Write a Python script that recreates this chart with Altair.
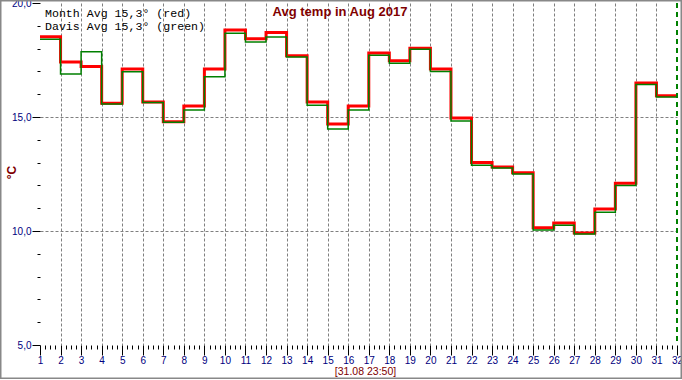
import altair as alt
import pandas as pd

days = list(range(1, 32))
red_vals = [18.52, 17.41, 17.21, 15.60, 17.11, 15.66, 14.79, 15.48, 17.11, 18.82,
            18.43, 18.71, 17.69, 15.66, 14.69, 15.48, 17.81, 17.47, 18.01, 17.11,
            14.96, 13.00, 12.81, 12.56, 10.14, 10.35, 9.91, 10.96, 12.09, 16.49, 15.93]
green_vals = [18.41, 16.89, 17.86, 15.57, 16.99, 15.64, 14.77, 15.31, 16.77, 18.67,
              18.29, 18.51, 17.63, 15.51, 14.47, 15.31, 17.71, 17.36, 17.97, 17.00,
              14.82, 12.88, 12.76, 12.50, 10.04, 10.25, 9.87, 10.82, 12.00, 16.42, 15.88]
legend_lines = ["Month Avg 15,3° (red)", "Davis Avg 15,3° (green)"]
chart_title = ["Avg temp in Aug 2017"]
x_title = "[31.08 23:50]"
y_title = "°C"
now_day = [32]
x_ticks = [1 + i * 0.25 for i in range(125)]
y_ticks = list(range(5, 21))

W, H = 637, 342
NAVY = "#000080"
MAROON = "#800000"
LABEL_FONT = "Liberation Sans Narrow, Liberation Sans, Arial"

# step series: repeat last value at end of final day
red_df = pd.DataFrame({"day": days + [days[-1] + 1], "t": red_vals + [red_vals[-1]]})
green_df = pd.DataFrame({"day": days + [days[-1] + 1], "t": green_vals + [green_vals[-1]]})

xscale = alt.Scale(domain=[1, 32], nice=False, zero=False)
yscale = alt.Scale(domain=[5, 20], nice=False, zero=False)

xaxis = alt.Axis(
    values=x_ticks,
    tickCount=500,
    labelExpr="datum.value % 1 === 0 ? datum.value : ''",
    tickSize={"condition": {"test": "datum.value % 1 === 0", "value": 10}, "value": 4},
    tickColor="black",
    tickWidth=1,
    domain=False,
    grid=True,
    gridColor="#808080",
    gridDash=[3, 2],
    gridWidth=1,
    gridOpacity={"condition": {"test": "datum.value % 1 === 0 && datum.value > 1 && datum.value < 32", "value": 1}, "value": 0},
    labelColor=NAVY,
    labelFont=LABEL_FONT,
    labelFontSize=10,
    labelPadding=0,
    labelFlush=False,
    labelOverlap=False,
    title=x_title,
    titleColor=MAROON,
    titleFont="Liberation Sans",
    titleFontSize=10.5,
    titleFontWeight="normal",
    titleX=325,
    titleY=29.5,
    titleBaseline="alphabetic",
    titleAlign="center",
)

yaxis = alt.Axis(
    values=y_ticks,
    tickCount=100,
    labelExpr="datum.value % 5 === 0 ? replace(format(datum.value, '.1f'), '.', ',') : ''",
    tickSize={"condition": {"test": "datum.value % 5 === 0", "value": 8}, "value": 3},
    tickColor="black",
    tickWidth=1,
    domain=False,
    grid=True,
    gridColor="#808080",
    gridDash=[3, 2],
    gridWidth=1,
    gridOpacity={"condition": {"test": "datum.value === 10 || datum.value === 15", "value": 1}, "value": 0},
    labelColor=NAVY,
    labelFont=LABEL_FONT,
    labelFontSize=10,
    labelPadding=1,
    labelFlush=False,
    labelOverlap=False,
    title=y_title,
    titleColor=MAROON,
    titleFont="Liberation Sans",
    titleFontSize=12,
    titleFontWeight="bold",
    titleX=-29,
    titleY=169,
    titleAlign="center",
    titleBaseline="middle",
)

red_line = alt.Chart(red_df).mark_line(
    interpolate="step-after", color="#FF0000", strokeWidth=3
).encode(
    x=alt.X("day:Q", scale=xscale, axis=xaxis),
    y=alt.Y("t:Q", scale=yscale, axis=yaxis),
)

green_line = alt.Chart(green_df).mark_line(
    interpolate="step-after", color="#008000", strokeWidth=1.5
).encode(
    x=alt.X("day:Q", scale=xscale),
    y=alt.Y("t:Q", scale=yscale),
)

now_rule = alt.Chart(pd.DataFrame({"day": now_day})).mark_rule(
    color="#008000", strokeWidth=2, strokeDash=[5, 4]
).encode(x=alt.X("day:Q", scale=xscale))

legend_df = pd.DataFrame({"txt": legend_lines, "row": [0, 1]})
legend = alt.Chart(legend_df).transform_calculate(
    py="13.5 + datum.row * 13"
).mark_text(
    align="left", baseline="alphabetic", font="Liberation Mono",
    fontSize=11.6, color="#000000"
).encode(
    x=alt.value(5),
    y=alt.Y("py:Q", scale=None),
    text="txt:N",
)

title_txt = alt.Chart(pd.DataFrame({"txt": chart_title})).mark_text(
    align="center", baseline="alphabetic", font="Liberation Sans",
    fontSize=13, fontWeight="bold", color=MAROON
).encode(x=alt.value(300), y=alt.value(13), text="txt:N")

frame = alt.Chart(pd.DataFrame({"a": [0]})).mark_rect(
    fill=None, stroke="#888888", strokeWidth=1.5
).encode(
    x=alt.value(-39.25), x2=alt.value(641.25), y=alt.value(-2.25), y2=alt.value(375.25)
)

chart = alt.layer(
    red_line, green_line, now_rule, legend, title_txt, frame
).properties(
    width=W, height=H,
    autosize=alt.AutoSizeParams(type="none"),
    padding={"left": 40, "top": 3, "right": 5, "bottom": 35},
    background="white",
).configure_view(stroke=None)

chart.save("out.html", embed_options={"renderer": "svg", "actions": False})
